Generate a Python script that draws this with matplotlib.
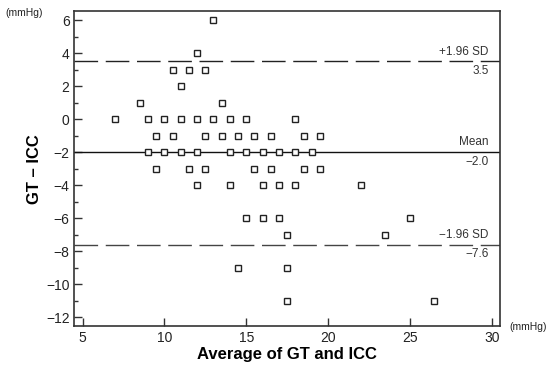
import matplotlib.pyplot as plt
from matplotlib.ticker import MultipleLocator

plt.rcParams['font.family'] = ['Liberation Sans', 'DejaVu Sans']

# Bland-Altman points: average (x) and difference (y)
avg = [13, 12,
       10.5, 11.5, 12.5,
       11,
       8.5, 13.5,
       7, 9, 10, 11, 12, 13, 14, 15, 18,
       9.5, 10.5, 12.5, 13.5, 14.5, 15.5, 16.5, 18.5, 19.5,
       9, 10, 11, 12, 14, 15, 16, 17, 18, 19,
       9.5, 11.5, 12.5, 15.5, 16.5, 18.5, 19.5,
       12, 14, 16, 17, 18, 22,
       15, 16, 17, 25,
       17.5, 23.5,
       14.5, 17.5,
       17.5, 26.5]
diff = [6, 4,
        3, 3, 3,
        2,
        1, 1,
        0, 0, 0, 0, 0, 0, 0, 0, 0,
        -1, -1, -1, -1, -1, -1, -1, -1, -1,
        -2, -2, -2, -2, -2, -2, -2, -2, -2, -2,
        -3, -3, -3, -3, -3, -3, -3,
        -4, -4, -4, -4, -4, -4,
        -6, -6, -6, -6,
        -7, -7,
        -9, -9,
        -11, -11]

mean_diff = -2.0
upper = 3.5
lower = -7.6

fig = plt.figure(figsize=(5.53, 3.66), dpi=100)
ax = fig.add_axes([0.1345, 0.108, 0.7695, 0.862])

ax.plot(avg, diff, linestyle='none', marker='s', markersize=4.2,
        markerfacecolor='white', markeredgecolor='#222222', markeredgewidth=1.0, zorder=3)

ax.axhline(mean_diff, color='#111111', linewidth=1.0, zorder=2)
ax.axhline(upper, color='#222222', linewidth=1.0, dashes=(17, 5.5), zorder=2)
ax.axhline(lower, color='#444444', linewidth=1.0, dashes=(17, 5.5), zorder=2)

tx = 0.974
for yv, top, bot in [(upper, '+1.96 SD', '3.5'), (mean_diff, 'Mean', '\u22122.0'),
                     (lower, '\u22121.96 SD', '\u22127.6')]:
    ax.annotate(top, xy=(tx, yv), xycoords=('axes fraction', 'data'), xytext=(0, 7),
                textcoords='offset points', ha='right', va='center', fontsize=8.5, color='#333333')
    ax.annotate(bot, xy=(tx, yv), xycoords=('axes fraction', 'data'), xytext=(0, -7),
                textcoords='offset points', ha='right', va='center', fontsize=8.5, color='#333333')

ax.set_xlim(4.5, 30.5)
ax.set_ylim(-12.55, 6.55)
ax.set_xticks([5, 10, 15, 20, 25, 30])
ax.set_yticks([6, 4, 2, 0, -2, -4, -6, -8, -10, -12])
ax.yaxis.set_minor_locator(MultipleLocator(1))
ax.tick_params(axis='both', which='major', direction='in', length=6, width=1, labelsize=10,
               color='#333333', labelcolor='#222222')
ax.tick_params(axis='y', which='minor', direction='in', length=3, width=1, color='#333333')
for s in ax.spines.values():
    s.set_color('#333333')
    s.set_linewidth(1.2)

ax.set_xlabel('Average of GT and ICC', fontsize=12, fontweight='bold', labelpad=1)
ax.set_ylabel('GT \u2013 ICC', fontsize=12, fontweight='bold', labelpad=3)

fig.text(0.01, 0.965, '(mmHg)', fontsize=7.5, va='center', ha='left', color='#222222')
fig.text(0.922, 0.107, '(mmHg)', fontsize=7.5, va='center', ha='left', color='#222222')

fig.savefig('out.png', dpi=100)
